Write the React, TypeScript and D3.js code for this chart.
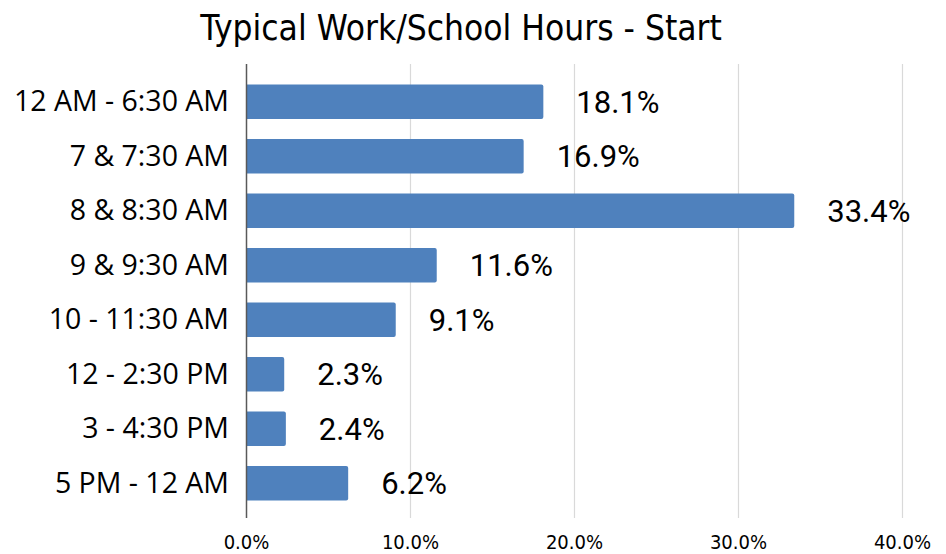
import React from "react";
import * as d3 from "d3";

const categories = [
  "12 AM - 6:30 AM",
  "7 & 7:30 AM",
  "8 & 8:30 AM",
  "9 & 9:30 AM",
  "10 - 11:30 AM",
  "12 - 2:30 PM",
  "3 - 4:30 PM",
  "5 PM - 12 AM",
];
const values = [18.1, 16.9, 33.4, 11.6, 9.1, 2.3, 2.4, 6.2];
const ticks = [0, 10, 20, 30, 40];
const title = "Typical Work/School Hours - Start";

const W = 946;
const H = 554;

export default function App() {
  const x = d3.scaleLinear().domain([0, 40]).range([246.5, 902.5]);
  const y = d3
    .scaleBand<string>()
    .domain(categories)
    .range([74.5, 510.5])
    .paddingInner(0.367)
    .paddingOuter(0.183);
  const bh = y.bandwidth();
  const gridTop = 64;
  const gridBottom = 518;

  return (
    <svg
      width={W}
      height={H}
      style={{ position: "absolute", left: 0, top: 0, background: "#fff" }}
    >
      <text
        x={461}
        y={40}
        textAnchor="middle"
        fontFamily="'DejaVu Sans Condensed', sans-serif"
        fontSize={35}
        fill="#000"
      >
        {title}
      </text>
      {ticks.slice(1).map((t) => (
        <line
          key={t}
          x1={x(t)}
          x2={x(t)}
          y1={gridTop}
          y2={gridBottom}
          stroke="#d9d9d9"
          strokeWidth={1.2}
        />
      ))}
      {categories.map((c, i) => {
        const y0 = y(c)!;
        const x0 = x(0);
        const x1 = x(values[i]);
        const r = 2;
        const path = `M${x0},${y0}H${x1 - r}Q${x1},${y0} ${x1},${y0 + r}V${y0 + bh - r}Q${x1},${y0 + bh} ${x1 - r},${y0 + bh}H${x0}Z`;
        return (
          <g key={c}>
            <path d={path} fill="#4f81bd" />
            <text
              x={x1 + 33}
              y={y0 + bh / 2 + 11}
              fontFamily="Roboto, sans-serif"
              fontSize={31}
              fill="#000"
            >
              {values[i].toFixed(1)}%
            </text>
            <text
              x={229}
              y={y0 + bh / 2 + 9.5}
              textAnchor="end"
              fontFamily="'Open Sans', sans-serif"
              fontSize={28.5}
              fill="#000"
            >
              {c}
            </text>
          </g>
        );
      })}
      <line
        x1={x(0)}
        x2={x(0)}
        y1={gridTop}
        y2={gridBottom}
        stroke="#595959"
        strokeWidth={1.5}
      />
      {ticks.map((t) => (
        <text
          key={t}
          x={x(t)}
          y={549}
          textAnchor="middle"
          fontFamily="'DejaVu Sans Condensed', sans-serif"
          fontSize={20}
          fill="#000"
        >
          {t.toFixed(1)}%
        </text>
      ))}
    </svg>
  );
}
